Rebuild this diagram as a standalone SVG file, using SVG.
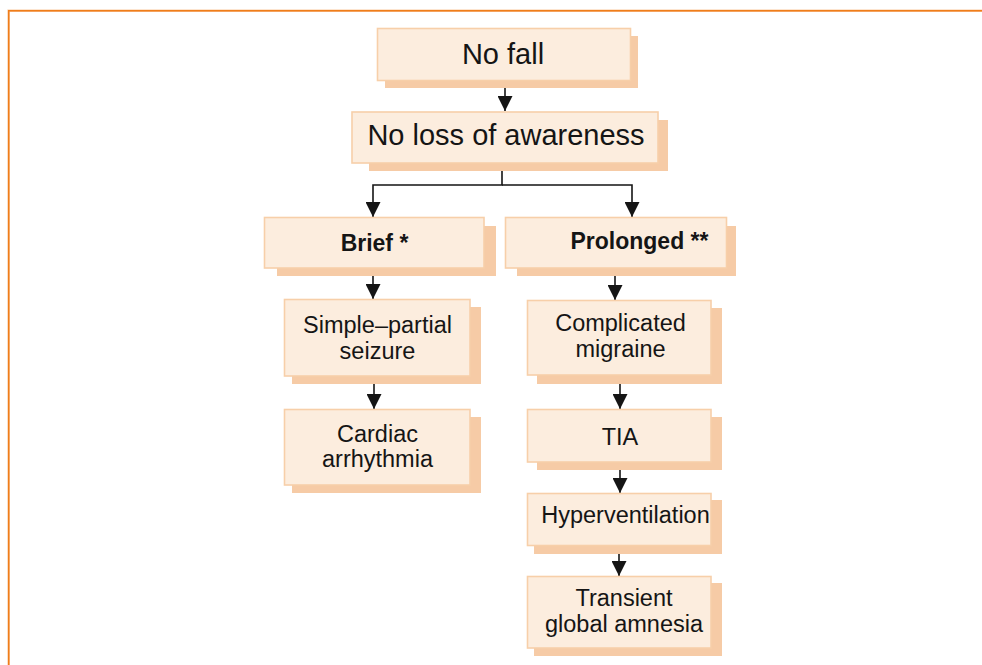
<svg xmlns="http://www.w3.org/2000/svg" width="982" height="665" viewBox="0 0 982 665">
<style>
.box{fill:#FCEDDE;stroke:#F7CFA9;stroke-width:1.6}
.sh{fill:#F6CBA6}
.t{font-family:"Liberation Sans",Arial,sans-serif;font-size:23.5px;fill:#151515;text-anchor:middle}
.tl{font-size:29px}
.b{font-weight:bold;font-size:23px}
.c{fill:none;stroke:#151515;stroke-width:1.6}
</style>
<defs>
<marker id="ah" viewBox="0 0 15 15" markerWidth="15" markerHeight="15" markerUnits="userSpaceOnUse" refX="15" refY="7.5" orient="auto">
<path d="M0,0 L15,7.5 L0,15 z" fill="#151515"/>
</marker>
</defs>
<rect width="982" height="665" fill="#fff"/>
<path d="M8.7,665 V10.7 H982" fill="none" stroke="#F9C9A0" stroke-width="2.6"/>
<path d="M8.7,665 V10.7 H982" fill="none" stroke="#EF7D1A" stroke-width="1.4"/>

<g id="connectors">
<path class="c" d="M505,81 V111" marker-end="url(#ah)"/>
<path class="c" d="M502,165 V185 H373 V217" marker-end="url(#ah)"/>
<path class="c" d="M502,185 H632 V217" marker-end="url(#ah)"/>
<path class="c" d="M373,268 V299" marker-end="url(#ah)"/>
<path class="c" d="M615,268 V300" marker-end="url(#ah)"/>
<path class="c" d="M374,376 V409" marker-end="url(#ah)"/>
<path class="c" d="M620,375 V409" marker-end="url(#ah)"/>
<path class="c" d="M620,462 V493" marker-end="url(#ah)"/>
<path class="c" d="M619,545 V576" marker-end="url(#ah)"/>
</g>

<g id="n1">
<rect class="sh" x="385" y="36" width="253" height="52"/>
<rect class="box" x="377.5" y="28.5" width="253" height="52"/>
<text class="t tl" x="503" y="64">No fall</text>
</g>
<g id="n2">
<rect class="sh" x="369" y="120" width="299" height="51"/>
<rect class="box" x="352" y="112" width="306" height="51"/>
<text class="t tl" x="506" y="145">No loss of awareness</text>
</g>
<g id="n3">
<rect class="sh" x="277" y="226" width="219" height="50"/>
<rect class="box" x="264.5" y="217.5" width="219.5" height="50.5"/>
<text class="t b" x="374.5" y="251">Brief *</text>
</g>
<g id="n4">
<rect class="sh" x="517" y="226" width="219" height="50"/>
<rect class="box" x="505.5" y="217.5" width="221" height="50.5"/>
<text class="t b" x="639.5" y="249">Prolonged **</text>
</g>
<g id="n5">
<rect class="sh" x="292" y="307" width="189" height="77"/>
<rect class="box" x="284.5" y="299.5" width="185.5" height="76.5"/>
<text class="t" x="377.5" y="333">Simple–partial</text>
<text class="t" x="377.5" y="359">seizure</text>
</g>
<g id="n6">
<rect class="sh" x="292" y="417" width="189" height="76"/>
<rect class="box" x="284.5" y="409.5" width="185.5" height="75.5"/>
<text class="t" x="377.5" y="442">Cardiac</text>
<text class="t" x="377.5" y="467">arrhythmia</text>
</g>
<g id="n7">
<rect class="sh" x="537" y="308" width="185" height="76"/>
<rect class="box" x="527.5" y="300.5" width="183.5" height="74.5"/>
<text class="t" x="620.5" y="331">Complicated</text>
<text class="t" x="620.5" y="357">migraine</text>
</g>
<g id="n8">
<rect class="sh" x="537" y="417" width="185" height="53"/>
<rect class="box" x="527.5" y="409.5" width="183.5" height="52.5"/>
<text class="t" x="620" y="445">TIA</text>
</g>
<g id="n9">
<rect class="sh" x="534" y="500" width="188" height="54"/>
<rect class="box" x="527.5" y="493.5" width="183.5" height="52"/>
<text class="t" x="625.5" y="523">Hyperventilation</text>
</g>
<g id="n10">
<rect class="sh" x="534" y="583" width="188" height="73"/>
<rect class="box" x="527.5" y="576.5" width="183.5" height="71.5"/>
<text class="t" x="624" y="606">Transient</text>
<text class="t" x="624" y="632">global amnesia</text>
</g>
</svg>
